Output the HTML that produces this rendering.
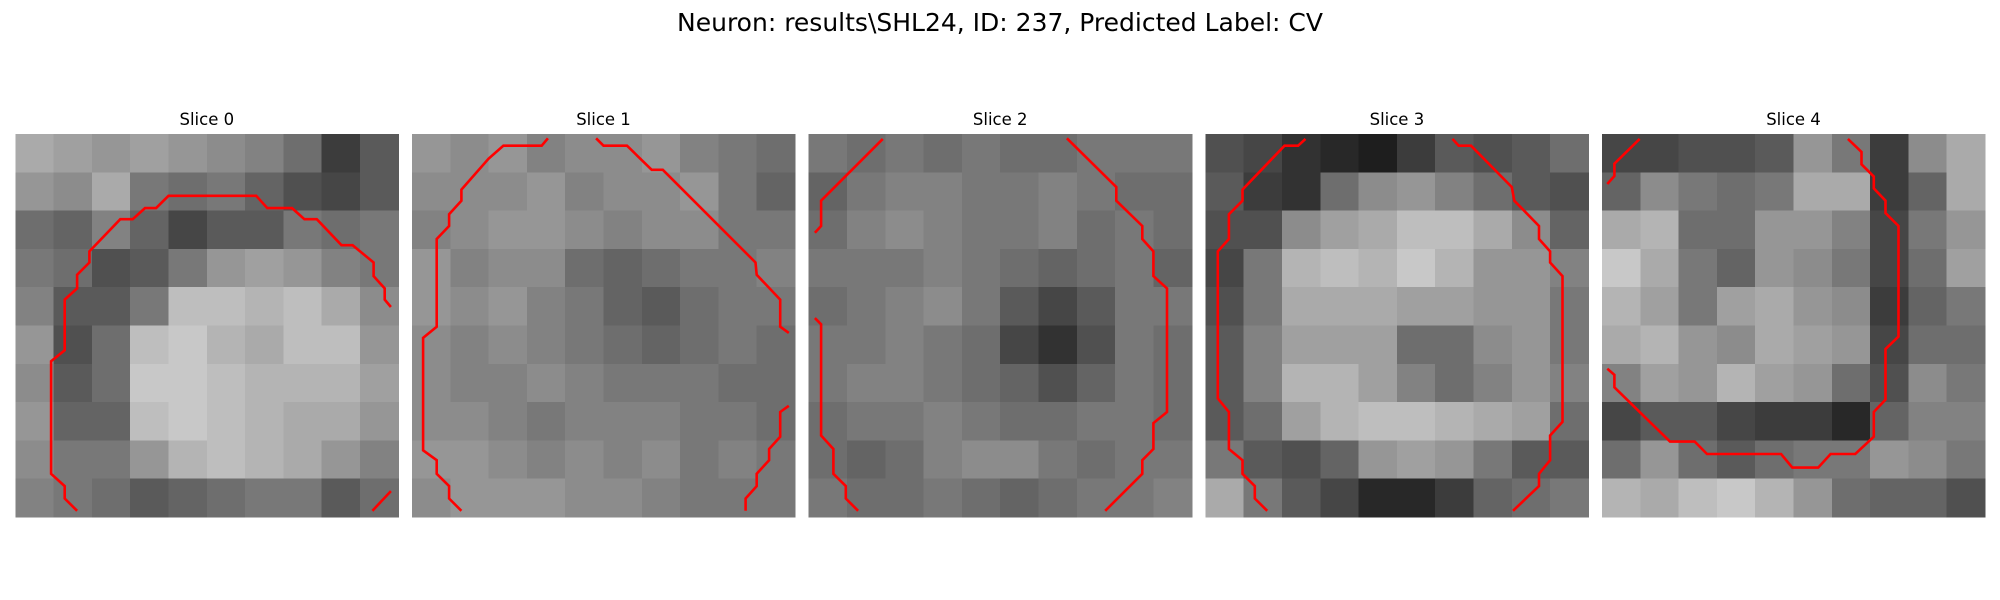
<!DOCTYPE html>
<html><head><meta charset="utf-8"><style>
html,body{margin:0;padding:0;background:#fff;}
svg{display:block;font-family:"DejaVu Sans","Liberation Sans",sans-serif;}
</style></head><body>
<svg id="fig" width="2000" height="600" viewBox="0 0 2000 600" xmlns="http://www.w3.org/2000/svg">
<rect width="2000" height="600" fill="#fff"/>
<text x="1000" y="31" font-size="25" text-anchor="middle" fill="#000">Neuron: results\SHL24, ID: 237, Predicted Label: CV</text>
<g id="panels"></g>
</svg>
<script>
const sliceLabels = ["Slice 0","Slice 1","Slice 2","Slice 3","Slice 4"];
const gridUnits = 31;
const slice0 = [
[170,160,150,160,150,140,130,110,60,90],
[150,140,170,120,110,120,100,80,70,90],
[110,100,130,100,70,90,90,120,110,120],
[120,110,80,90,120,150,160,150,130,120],
[130,90,90,120,190,190,180,190,170,140],
[150,80,110,190,200,180,170,190,190,150],
[140,90,110,200,200,190,180,180,180,160],
[150,100,100,190,200,190,180,170,170,150],
[140,120,120,150,180,190,180,170,150,130],
[130,120,110,90,100,110,120,120,90,110]];
const slice1 = [
[150,140,150,130,140,140,150,130,120,110],
[140,140,140,150,130,140,140,150,120,100],
[130,140,150,150,140,130,140,140,120,120],
[150,130,140,140,110,100,110,120,120,130],
[150,140,150,130,120,100,90,110,120,120],
[140,130,140,130,120,110,100,110,120,110],
[140,130,130,140,130,120,120,120,110,110],
[140,140,130,120,130,130,130,120,120,110],
[150,150,140,130,140,130,140,120,130,120],
[140,150,150,150,140,140,130,120,120,120]];
const slice2 = [
[120,110,120,110,120,110,110,120,120,120],
[100,120,130,130,120,120,130,120,110,110],
[110,130,140,130,120,120,130,110,120,110],
[120,120,120,130,120,110,100,110,120,100],
[110,120,130,140,120,90,70,90,120,120],
[120,120,130,120,110,70,50,80,120,110],
[120,130,130,120,110,100,80,100,120,110],
[110,120,120,130,120,110,110,120,120,110],
[110,100,110,130,140,140,120,110,120,120],
[120,110,110,120,110,100,110,120,120,130]];
const slice3 = [
[80,70,50,40,30,60,90,80,90,110],
[90,60,50,110,140,150,130,110,90,80],
[80,80,140,160,170,190,190,170,140,100],
[70,120,180,190,180,200,180,150,150,130],
[80,120,170,170,170,160,160,150,150,120],
[90,130,160,160,160,110,110,140,150,120],
[90,130,180,180,160,130,110,130,150,130],
[90,110,160,180,190,190,180,170,160,110],
[120,90,80,100,150,160,150,120,90,90],
[170,120,90,70,40,40,60,100,110,120]];
const slice4 = [
[70,70,80,80,90,150,120,60,140,170],
[100,140,120,110,120,170,170,60,100,170],
[170,180,110,110,150,150,130,70,120,150],
[200,170,120,100,150,140,120,70,110,160],
[180,160,120,160,170,150,140,60,100,120],
[170,180,150,140,170,160,150,70,110,110],
[130,160,150,180,160,150,110,80,140,120],
[70,90,90,70,60,60,40,100,130,130],
[110,150,110,90,110,120,120,150,140,120],
[180,170,190,200,180,150,110,100,100,80]];
const contour0 = [
[[5.0,30.5],[4.0,29.5],[4.0,28.5],[2.9,27.5],[2.9,18.4],[4.0,17.5],[4.0,13.4],[5.0,12.5],[5.0,11.4],[6.0,10.4],[6.0,9.5],[8.5,6.9],[9.5,6.9],[10.5,6.0],[11.4,6.0],[12.4,5.0],[19.5,5.0],[20.4,6.0],[22.4,6.0],[23.4,6.9],[24.4,6.9],[26.4,9.0],[27.3,9.0],[29.0,10.4],[29.0,11.5],[29.9,12.5],[29.9,13.4],[30.4,14.0]],
[[28.9,30.5],[30.4,28.9]]];
const contour1 = [
[[11.0,0.35],[10.5,0.95],[7.4,0.95],[6.2,2.0],[4.0,4.5],[4.0,5.4],[3.0,6.5],[3.0,7.45],[2.0,8.5],[2.0,15.6],[0.9,16.5],[0.9,25.6],[2.0,26.4],[2.0,27.5],[3.0,28.5],[3.0,29.5],[4.0,30.5]],
[[14.9,0.35],[15.5,0.95],[17.4,0.95],[19.4,2.9],[20.3,2.9],[27.8,10.4],[27.9,11.4],[29.8,13.4],[29.8,15.6],[30.5,16.1]],
[[30.5,22],[29.8,22.5],[29.8,24.5],[28.9,25.5],[28.9,26.4],[27.9,27.5],[27.9,28.5],[27.0,29.5],[27.0,30.5]]];
const contour2 = [
[[6.0,0.4],[5.1,1.3],[1.0,5.4],[1.0,7.45],[0.5,8.0]],
[[0.5,14.9],[1.0,15.4],[1.0,24.4],[2.0,25.5],[2.0,27.5],[3.0,28.5],[3.0,29.5],[4.0,30.5]],
[[20.9,0.35],[24.9,4.3],[24.9,5.4],[27.0,7.45],[27.0,8.5],[27.9,9.5],[27.9,11.5],[29.0,12.5],[29.0,22.5],[27.9,23.4],[27.9,25.5],[27.0,26.4],[27.0,27.5],[24.0,30.5]]];
const contour3 = [
[[8.1,0.4],[7.5,0.95],[6.4,0.95],[3.0,4.5],[3.0,5.4],[1.9,6.5],[1.9,8.5],[1.0,9.5],[1.0,21.4],[1.9,22.5],[1.9,25.5],[3.0,26.4],[3.0,27.5],[4.0,28.5],[4.0,29.5],[5.0,30.5]],
[[20.0,0.4],[20.5,0.95],[21.5,0.95],[24.8,4.3],[25.0,5.4],[27.0,7.45],[27.0,8.5],[27.9,9.5],[27.9,10.4],[28.9,11.5],[28.9,23.3],[27.9,24.4],[27.9,26.4],[27.0,27.5],[27.0,28.5],[24.9,30.5]]];
const contour4 = [
[[3.05,0.4],[1.0,2.4],[1.0,3.4],[0.43,4.05]],
[[19.9,0.4],[21.0,1.45],[21.0,2.45],[22.0,3.45],[22.0,4.4],[22.95,5.4],[22.95,6.4],[24.0,7.45],[24.0,16.4],[22.95,17.4],[22.95,21.5],[22.0,22.5],[22.0,24.5],[20.5,25.9],[18.5,25.9],[17.5,27.0],[15.4,27.0],[14.5,25.9],[8.5,25.9],[7.5,24.9],[5.5,24.9],[1.0,20.5],[1.0,19.5],[0.43,19.0]]];

const slices = [slice0,slice1,slice2,slice3,slice4];
const contours = [contour0,contour1,contour2,contour3,contour4];
const NS = "http://www.w3.org/2000/svg";
const panelLeft = [15.3,412,808.7,1205.4,1602];
const panelTop = 134, panelSize = 383;
const root = document.getElementById('panels');
function xScale(p,u){return panelLeft[p] + u/gridUnits*panelSize;}
function yScale(v){return panelTop + v/gridUnits*panelSize;}
slices.forEach((grid,p)=>{
  const g = document.createElementNS(NS,'g');
  
  
  root.appendChild(g);
  const t = document.createElementNS(NS,'text');
  
  
  t.setAttribute('x', panelLeft[p]+panelSize/2);
  t.setAttribute('y', 125);
  t.setAttribute('font-size','16.5');
  t.setAttribute('text-anchor','middle');
  t.textContent = sliceLabels[p];
  g.appendChild(t);
  const n = grid.length, cs = panelSize/n;
  grid.forEach((row,r)=>row.forEach((val,c)=>{
    const rc = document.createElementNS(NS,'rect');
    
    
    rc.setAttribute('x', panelLeft[p]+c*cs);
    rc.setAttribute('y', panelTop+r*cs);
    rc.setAttribute('width', cs+0.6);
    rc.setAttribute('height', cs+0.6);
    rc.setAttribute('fill', `rgb(${val},${val},${val})`);
    rc.setAttribute('shape-rendering','crispEdges');
    g.appendChild(rc);
  }));
  contours[p].forEach(seg=>{
    const pl = document.createElementNS(NS,'polyline');
    
    
    pl.setAttribute('points', seg.map(q=>xScale(p,q[0]).toFixed(1)+','+yScale(q[1]).toFixed(1)).join(' '));
    pl.setAttribute('fill','none');
    pl.setAttribute('stroke','#ff0000');
    pl.setAttribute('stroke-width','2.6');
    g.appendChild(pl);
  });
});
</script>
</body></html>
